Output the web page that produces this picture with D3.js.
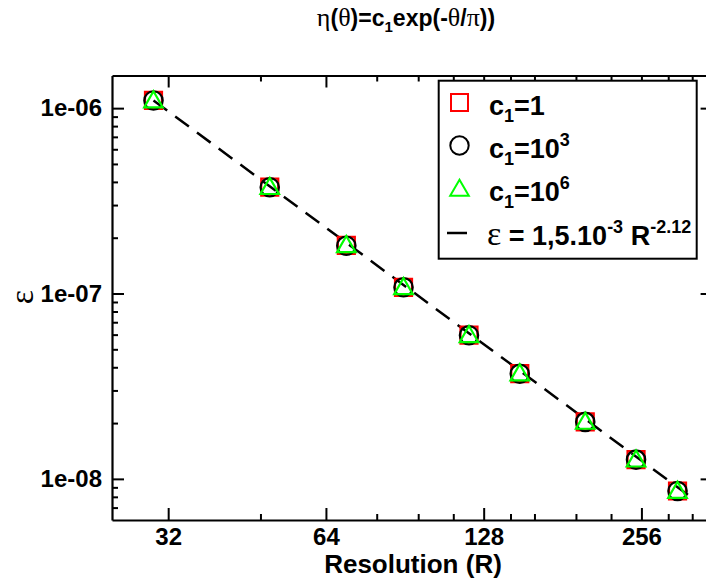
<!DOCTYPE html>
<html>
<head>
<meta charset="utf-8">
<script src="https://cdn.jsdelivr.net/npm/d3@7"></script>
<style>
  html, body { margin: 0; padding: 0; background: #fff; }
  svg { display: block; }
  text { font-family: "Liberation Sans", Arial, sans-serif; font-weight: bold; fill: #000; }
</style>
</head>
<body>
<div id="chart"></div>
<script>
// ---- data ----
const resolution = [30, 50, 70, 90, 120, 150, 200, 250, 300];
const errC1    = [1.10e-6, 3.75e-7, 1.82e-7, 1.08e-7, 5.96e-8, 3.70e-8, 2.03e-8, 1.27e-8, 8.6e-9];
const errC1e3  = [1.10e-6, 3.74e-7, 1.81e-7, 1.08e-7, 5.95e-8, 3.69e-8, 2.03e-8, 1.27e-8, 8.6e-9];
const errC1e6  = [1.10e-6, 3.75e-7, 1.82e-7, 1.08e-7, 5.96e-8, 3.70e-8, 2.03e-8, 1.27e-8, 8.6e-9];
const fitR     = [30, 314];
const fitErr   = [1.10e-6, 8.2e-9];

const xMajorTicks = [32, 64, 128, 256];
const xMinorTicks = [48, 80, 96, 112, 144, 160, 192, 224, 288, 320];
const yMajorTicks = [1e-6, 1e-7, 1e-8];
const yMajorLabels = ["1e-06", "1e-07", "1e-08"];

const W = 706, H = 581;
const svg = d3.select("#chart").append("svg").attr("width", W).attr("height", H);

const x = d3.scaleLog().base(2).domain([25, 350]).range([112, 712.6]);
const y = d3.scaleLog().base(10).domain([6e-9, 1.5e-6]).range([520, 75.5]);

const yMinorTicks = y.ticks().filter(v => !yMajorTicks.some(m => Math.abs(m - v) / m < 1e-6) && v > 6.05e-9);

function styleAxis(g) {
  g.selectAll("path.domain").attr("stroke", "#000").attr("stroke-width", 2.2);
  g.selectAll(".tick line").attr("stroke", "#000").attr("stroke-width", 2);
  g.selectAll(".tick text").style("font-family", "'Liberation Sans', Arial, sans-serif")
    .style("font-weight", "bold").style("font-size", "24px").attr("fill", "#000");
}

// minor ticks
const minorX = (axis, ty) => svg.append("g").attr("transform", `translate(0,${ty})`)
  .call(axis(x).tickValues(xMinorTicks).tickSize(-6).tickSizeOuter(0).tickFormat(""))
  .call(g => g.select("path.domain").remove()).call(styleAxis);
minorX(d3.axisBottom, 520);
minorX(d3.axisTop, 75.5);
svg.append("g").attr("transform", "translate(112,0)")
  .call(d3.axisLeft(y).tickValues(yMinorTicks).tickSize(-6).tickSizeOuter(0).tickFormat(""))
  .call(g => g.select("path.domain").remove()).call(styleAxis);

// major axes
svg.append("g").attr("transform", "translate(0,520)")
  .call(d3.axisBottom(x).tickValues(xMajorTicks).tickSize(-12).tickSizeOuter(0).tickPadding(8).tickFormat(d => String(d)))
  .call(styleAxis);
svg.append("g").attr("transform", "translate(0,75.5)")
  .call(d3.axisTop(x).tickValues(xMajorTicks).tickSize(-12).tickSizeOuter(0).tickFormat(""))
  .call(styleAxis);
svg.append("g").attr("transform", "translate(112,0)")
  .call(d3.axisLeft(y).tickValues(yMajorTicks).tickSize(-12).tickSizeOuter(0).tickPadding(10)
    .tickFormat((d, i) => yMajorLabels[i]))
  .call(styleAxis);
svg.append("g").attr("transform", "translate(712.6,0)")
  .call(d3.axisRight(y).tickValues(yMajorTicks).tickSize(-12).tickSizeOuter(0).tickFormat(""))
  .call(styleAxis);

// fit line
const line = d3.line().x(d => x(d[0])).y(d => y(d[1]));
svg.append("path").datum(fitR.map((r, i) => [r, fitErr[i]]))
  .attr("d", line).attr("fill", "none").attr("stroke", "#000")
  .attr("stroke-width", 2.5).attr("stroke-dasharray", "17,10");

// symbols
const sq = d3.symbol().type(d3.symbolSquare).size(17 * 17);
const ci = d3.symbol().type(d3.symbolCircle).size(Math.PI * 9.2 * 9.2);
const tr = d3.symbol().type(d3.symbolTriangle).size(150);

function drawSeries(vals, gen, color, dy) {
  svg.append("g").selectAll("path").data(resolution.map((r, i) => [r, vals[i]])).join("path")
    .attr("transform", d => `translate(${x(d[0])},${y(d[1]) + (dy || 0)})`)
    .attr("d", gen).attr("fill", "none").attr("stroke", color).attr("stroke-width", 2.2);
}
drawSeries(errC1, sq, "#ff0000");
drawSeries(errC1e3, ci, "#000000");
drawSeries(errC1e6, tr, "#00ff00", 1.5);

// legend
const lg = svg.append("g");
lg.append("rect").attr("x", 438.7).attr("y", 80.7).attr("width", 258).attr("height", 178)
  .attr("fill", "#fff").attr("stroke", "#000").attr("stroke-width", 2);
const rowsY = [102.5, 145.5, 189, 233];
const symX = 459.5, txtX = 489;
lg.append("path").attr("transform", `translate(${symX},${rowsY[0]})`).attr("d", sq())
  .attr("fill", "none").attr("stroke", "#ff0000").attr("stroke-width", 2);
lg.append("path").attr("transform", `translate(${symX},${rowsY[1]})`).attr("d", ci())
  .attr("fill", "none").attr("stroke", "#000").attr("stroke-width", 2);
lg.append("path").attr("transform", `translate(${symX},${rowsY[2] + 1.5})`).attr("d", tr())
  .attr("fill", "none").attr("stroke", "#00ff00").attr("stroke-width", 2);
lg.append("line").attr("x1", 447).attr("x2", 467).attr("y1", rowsY[3]).attr("y2", rowsY[3])
  .attr("stroke", "#000").attr("stroke-width", 2.5);

const legFS = 27, supFS = 18;
function c1Label(row, exp) {
  const t = lg.append("text").attr("x", txtX).attr("y", rowsY[row] + 12).style("font-size", legFS + "px");
  t.append("tspan").text("c");
  t.append("tspan").attr("dy", 7).style("font-size", supFS + "px").text("1");
  t.append("tspan").attr("dy", -7).text(exp ? "=10" : "=1");
  if (exp) t.append("tspan").attr("dy", -12).style("font-size", supFS + "px").text(exp);
}
c1Label(0, null);
c1Label(1, "3");
c1Label(2, "6");
{
  const t = lg.append("text").attr("x", txtX - 2).attr("y", rowsY[3] + 12).style("font-size", legFS + "px");
  t.append("tspan").style("font-family", "'Liberation Serif', serif").style("font-weight", "normal")
    .style("font-size", "34px").text("ε");
  t.append("tspan").text(" = 1,5.10");
  t.append("tspan").attr("dy", -12).style("font-size", supFS + "px").text("-3");
  t.append("tspan").attr("dy", 12).text(" R");
  t.append("tspan").attr("dy", -12).style("font-size", supFS + "px").text("-2.12");
}

// title
{
  const t = svg.append("text").attr("x", 406).attr("y", 26).attr("text-anchor", "middle").style("font-size", "23px");
  const greek = s => t.append("tspan").style("font-family", "'Liberation Serif', serif").style("font-weight", "normal").style("font-size", "26px").text(s);
  greek("η"); t.append("tspan").text("("); greek("θ"); t.append("tspan").text(")=c");
  t.append("tspan").attr("dy", 6).style("font-size", "15px").text("1");
  t.append("tspan").attr("dy", -6).text("exp(-"); greek("θ"); t.append("tspan").text("/"); greek("π");
  t.append("tspan").text("))");
}

// axis titles
svg.append("text").attr("x", 413).attr("y", 573).attr("text-anchor", "middle")
  .style("font-size", "26px").text("Resolution (R)");
svg.append("text").attr("transform", "translate(33,297) rotate(-90)").attr("text-anchor", "middle")
  .style("font-family", "'Liberation Serif', serif").style("font-weight", "normal").style("font-size", "34px").text("ε");
</script>
</body>
</html>
